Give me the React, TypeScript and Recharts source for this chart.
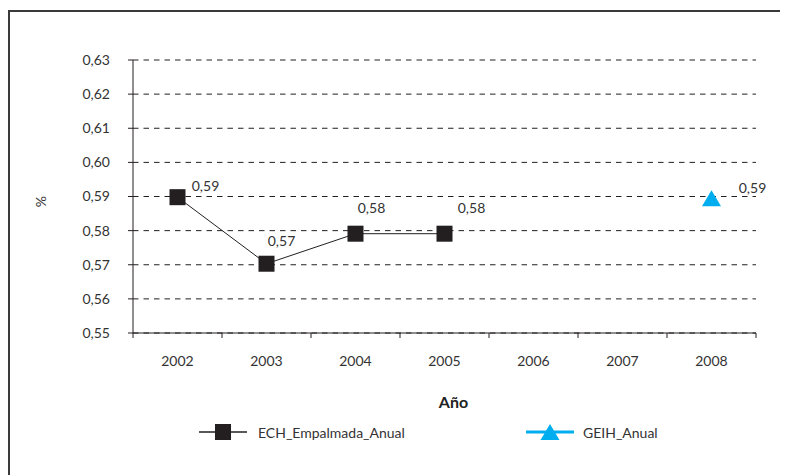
import React from "react";
import {
  LineChart,
  Line,
  XAxis,
  YAxis,
  CartesianGrid,
  LabelList,
  Label,
} from "recharts";

const YEARS = ["2002", "2003", "2004", "2005", "2006", "2007", "2008"];
const ECH_EMPALMADA = [0.5898, 0.5703, 0.5791, 0.5791, null, null, null];
const GEIH_ANUAL = [null, null, null, null, null, null, 0.5895];
const Y_TICKS = [0.55, 0.56, 0.57, 0.58, 0.59, 0.6, 0.61, 0.62, 0.63];

const data = YEARS.map((year, i) => ({
  year,
  ech: ECH_EMPALMADA[i],
  geih: GEIH_ANUAL[i],
}));

const FONT = "Lato, 'Open Sans', sans-serif";
const TEXT = "#333";
const DARK = "#231F20";
const CYAN = "#00AEEF";

const W = 780;
const H = 467;
const MARGIN = { top: 52, right: 32, bottom: 112, left: 65 };
const Y_AXIS_W = 60;
const X_AXIS_H = 30;
const PLOT_W = W - MARGIN.left - MARGIN.right - Y_AXIS_W;
const AXIS_Y = H - MARGIN.bottom - X_AXIS_H;
const HALF_BAND = PLOT_W / YEARS.length / 2;

const fmt = (v: number) => v.toFixed(2).replace(".", ",");

// label nudges, one per category (Excel placed them up and to the right)
const ECH_LABEL_NUDGE = [
  [28, -10],
  [15, -21],
  [16, -24],
  [27, -24],
];

function YearTick(props: any) {
  const { x, payload, index } = props;
  const last = index === YEARS.length - 1;
  return (
    <g>
      <line x1={x - HALF_BAND} y1={AXIS_Y} x2={x - HALF_BAND} y2={AXIS_Y + 5} stroke={DARK} />
      {last && (
        <line x1={x + HALF_BAND} y1={AXIS_Y} x2={x + HALF_BAND} y2={AXIS_Y + 5} stroke={DARK} />
      )}
      <text x={x} y={AXIS_Y + 29} textAnchor="middle" dominantBaseline="middle" fill={TEXT} fontSize={14} fontFamily={FONT}>
        {payload.value}
      </text>
    </g>
  );
}

function SquareDot(props: any) {
  const { cx, cy } = props;
  if (cx == null || cy == null) return <g />;
  return <rect x={cx - 8} y={cy - 8} width={16} height={16} fill={DARK} />;
}

function TriangleDot(props: any) {
  const { cx, cy } = props;
  if (cx == null || cy == null) return <g />;
  return <polygon points={`${cx},${cy - 8} ${cx + 9.5},${cy + 8} ${cx - 9.5},${cy + 8}`} fill={CYAN} />;
}

function EchLabel(props: any) {
  const { x, y, value, index } = props;
  if (value == null) return null;
  const [dx, dy] = ECH_LABEL_NUDGE[index] || [0, -20];
  return (
    <text x={x + dx} y={y + dy} textAnchor="middle" dominantBaseline="middle" fill={TEXT} fontSize={14} fontFamily={FONT}>
      {fmt(value)}
    </text>
  );
}

function GeihLabel(props: any) {
  const { x, y, value } = props;
  if (value == null) return null;
  return (
    <text x={x + 41} y={y - 9} textAnchor="middle" dominantBaseline="middle" fill={TEXT} fontSize={14} fontFamily={FONT}>
      {fmt(value)}
    </text>
  );
}

export default function App() {
  return (
    <div style={{ position: "relative", width: W, height: H, fontFamily: FONT }}>
      <div
        style={{
          position: "absolute",
          left: 0,
          top: 2,
          width: W,
          height: H - 2,
          borderTop: "2px solid #3a3a3a",
          borderLeft: "2px solid #3a3a3a",
          boxSizing: "border-box",
        }}
      />
      <div style={{ position: "absolute", left: 0, top: 0 }}>
        <LineChart width={W} height={H} data={data} margin={MARGIN}>
          <CartesianGrid vertical={false} stroke={DARK} strokeDasharray="5.5 5" />
          <XAxis
            dataKey="year"
            height={X_AXIS_H}
            padding={{ left: HALF_BAND, right: HALF_BAND }}
            axisLine={{ stroke: DARK }}
            tickLine={false}
            tick={<YearTick />}
            interval={0}
          >
            <Label value="Año" position="bottom" offset={34} dx={9} fill="#222" fontSize={16} fontWeight="bold" fontFamily={FONT} />
          </XAxis>
          <YAxis
            width={Y_AXIS_W}
            domain={[0.55, 0.63]}
            ticks={Y_TICKS}
            tickFormatter={fmt}
            axisLine={{ stroke: DARK }}
            tickLine={{ stroke: DARK }}
            tickSize={5}
            tickMargin={18}
            tick={{ fill: TEXT, fontSize: 14, fontFamily: FONT }}
          >
            <Label
              content={({ viewBox }: any) => (
                <text
                  x={viewBox.x - 31}
                  y={viewBox.y + viewBox.height / 2 + 5}
                  transform={`rotate(-90 ${viewBox.x - 31} ${viewBox.y + viewBox.height / 2 + 5})`}
                  textAnchor="middle"
                  dominantBaseline="middle"
                  fill={TEXT}
                  fontSize={14}
                  fontFamily={FONT}
                >
                  %
                </text>
              )}
            />
          </YAxis>
          <Line
            dataKey="ech"
            stroke={DARK}
            strokeWidth={1}
            dot={<SquareDot />}
            activeDot={false}
            isAnimationActive={false}
          >
            <LabelList dataKey="ech" content={<EchLabel />} />
          </Line>
          <Line
            dataKey="geih"
            stroke={CYAN}
            strokeWidth={3}
            dot={<TriangleDot />}
            activeDot={false}
            isAnimationActive={false}
          >
            <LabelList dataKey="geih" content={<GeihLabel />} />
          </Line>
        </LineChart>
      </div>
      <div
        style={{
          position: "absolute",
          left: 191,
          top: 412,
          display: "flex",
          alignItems: "center",
          fontSize: 14,
          color: TEXT,
          height: 24,
        }}
      >
        <svg width={48} height={24}>
          <line x1={0} y1={12} x2={48} y2={12} stroke={DARK} strokeWidth={1.5} />
          <rect x={16} y={4} width={16} height={16} fill={DARK} />
        </svg>
        <span style={{ marginLeft: 11 }}>ECH_Empalmada_Anual</span>
      </div>
      <div
        style={{
          position: "absolute",
          left: 518,
          top: 412,
          display: "flex",
          alignItems: "center",
          fontSize: 14,
          color: TEXT,
          height: 24,
        }}
      >
        <svg width={48} height={24}>
          <line x1={0} y1={12} x2={48} y2={12} stroke={CYAN} strokeWidth={3} />
          <polygon points="24,4 33.5,20 14.5,20" fill={CYAN} />
        </svg>
        <span style={{ marginLeft: 9 }}>GEIH_Anual</span>
      </div>
    </div>
  );
}
